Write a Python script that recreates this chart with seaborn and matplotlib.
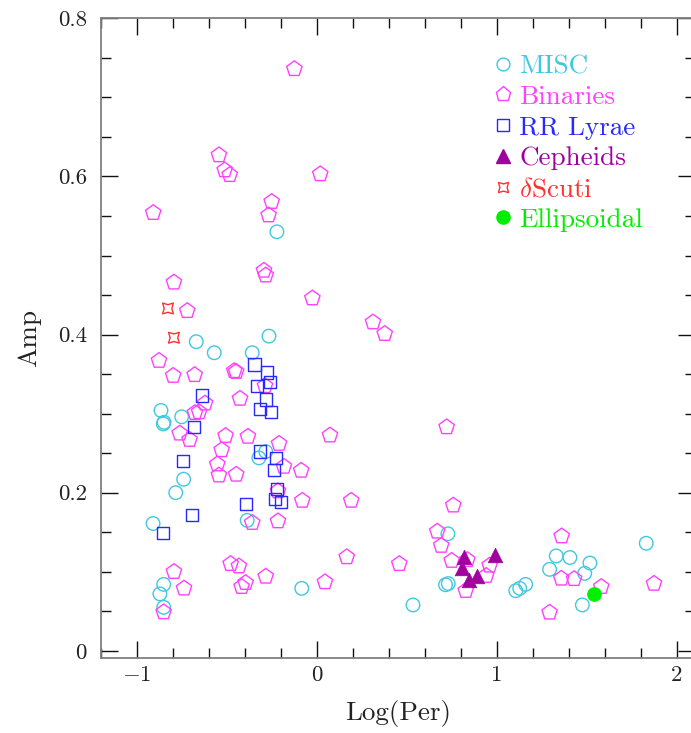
import numpy as np
import pandas as pd
import matplotlib
matplotlib.use("Agg")
import matplotlib.pyplot as plt
from matplotlib.lines import Line2D
from matplotlib.ticker import MultipleLocator
import seaborn as sns

# ---- data: log period vs amplitude, by variable class ----
misc_logp = [-0.669, -0.265, -0.569, -0.358, -0.865, -0.848, -0.852, -0.750,
             -0.283, -0.321, -0.739, -0.783, -0.909, -0.386, -0.850, -0.871,
             -0.850, -0.083, -0.221, 0.729, 0.716, 0.731, 0.535, 1.331,
             1.407, 1.294, 1.518, 1.489, 1.476, 1.106, 1.128, 1.161, 1.831]
misc_amp = [0.391, 0.398, 0.377, 0.377, 0.304, 0.289, 0.287, 0.296,
            0.252, 0.244, 0.217, 0.200, 0.161, 0.165, 0.084, 0.072,
            0.055, 0.079, 0.530, 0.148, 0.0835, 0.085, 0.058, 0.120,
            0.118, 0.103, 0.111, 0.098, 0.058, 0.076, 0.079, 0.084, 0.136]

bin_logp = [-0.124, -0.543, -0.511, -0.483, 0.020, -0.908, -0.250, -0.267,
            -0.293, -0.283, -0.793, -0.024, -0.719, 0.313, 0.378, -0.876,
            -0.797, -0.678, -0.458, -0.447, -0.287, -0.620, -0.426, -0.676,
            -0.653, -0.761, -0.706, -0.506, -0.382, -0.209, 0.074, 0.722,
            -0.528, -0.182, -0.086, -0.552, -0.543, -0.447, -0.215, -0.080,
            0.192, -0.358, -0.215, 0.167, -0.793, -0.737, -0.850, -0.478,
            -0.432, -0.395, -0.417, -0.283, 0.046, 0.459, 0.759, 0.670,
            0.692, 0.750, 0.837, 0.961, 0.942, 0.828, 1.361, 1.359,
            1.430, 1.581, 1.294, 1.874]
bin_amp = [0.736, 0.627, 0.608, 0.602, 0.603, 0.554, 0.568, 0.551,
           0.481, 0.475, 0.466, 0.446, 0.430, 0.4156, 0.401, 0.367,
           0.348, 0.349, 0.354, 0.353, 0.335, 0.313, 0.319, 0.301,
           0.302, 0.275, 0.267, 0.272, 0.271, 0.262, 0.2726, 0.283,
           0.254, 0.233, 0.228, 0.236, 0.222, 0.223, 0.202, 0.190,
           0.190, 0.162, 0.164, 0.1186, 0.100, 0.079, 0.049, 0.110,
           0.107, 0.086, 0.081, 0.094, 0.087, 0.110, 0.184, 0.151,
           0.133, 0.114, 0.115, 0.108, 0.095, 0.076, 0.145, 0.0915,
           0.091, 0.081, 0.0485, 0.085]

rrl_logp = [-0.345, -0.274, -0.259, -0.333, -0.636, -0.280, -0.315, -0.252,
            -0.682, -0.315, -0.226, -0.237, -0.743, -0.219, -0.233, -0.198,
            -0.391, -0.691, -0.852]
rrl_amp = [0.362, 0.352, 0.340, 0.335, 0.323, 0.318, 0.306, 0.302,
           0.283, 0.252, 0.244, 0.229, 0.240, 0.205, 0.192, 0.188,
           0.186, 0.172, 0.149]

cep_logp = [0.816, 0.809, 0.846, 0.892, 0.990]
cep_amp = [0.1186, 0.1047, 0.0899, 0.094, 0.1215]

dsct_logp = [-0.826, -0.793]
dsct_amp = [0.433, 0.396]

ell_logp = [1.541]
ell_amp = [0.072]

class_names = ["MISC", "Binaries", "RR Lyrae", "Cepheids",
               "$\\delta$Scuti", "Ellipsoidal"]

# ---- style ----
sns.set_style("ticks")
plt.rcParams.update({
    "font.family": ["cmr10", "DejaVu Serif"],
    "mathtext.fontset": "cm",
    "axes.unicode_minus": False,
    "axes.formatter.use_mathtext": True,
    "text.color": "#222222",
    "axes.labelcolor": "#222222",
    "xtick.color": "#111111",
    "ytick.color": "#111111",
    "xtick.labelcolor": "#222222",
    "ytick.labelcolor": "#222222",
})

fig = plt.figure(figsize=(6.91, 7.33), dpi=100)
# right spine sits just past the canvas edge
ax = fig.add_axes([0.1457, 0.1019, 0.8596, 0.8731])

styles = [
    # (x, y, marker, colour, hollow, size)
    (misc_logp, misc_amp, "o", "#40c8e0", True, 95),
    (bin_logp, bin_amp, "p", "#ff40ff", True, 135),
    (rrl_logp, rrl_amp, "s", "#2828ff", True, 78),
    (cep_logp, cep_amp, "^", "#a000a0", False, 110),
    (dsct_logp, dsct_amp, (4, 1, 45), "#ff3030", True, 120),
    (ell_logp, ell_amp, "o", "#00ee00", False, 100),
]

handles = []
for (xs, ys, mk, col, hollow, size), name in zip(styles, class_names):
    df = pd.DataFrame({"logper": xs, "amp": ys})
    if hollow:
        sns.scatterplot(data=df, x="logper", y="amp", ax=ax, marker=mk, s=size,
                        facecolors="none", edgecolor=col, linewidth=1.0,
                        legend=False, zorder=3)
    else:
        sns.scatterplot(data=df, x="logper", y="amp", ax=ax, marker=mk, s=size,
                        color=col, edgecolor=col, linewidth=0.5,
                        legend=False, zorder=3)
    handles.append(Line2D([], [], linestyle="none", marker=mk,
                          markersize=np.sqrt(size) * 0.95,
                          markerfacecolor="none" if hollow else col,
                          markeredgecolor=col, markeredgewidth=1.0))

leg = ax.legend(handles, class_names, loc="upper left",
                bbox_to_anchor=(0.634, 0.965), frameon=False,
                fontsize=19.5, handlelength=0.9, handletextpad=0.15,
                labelspacing=0.25, borderpad=0.0,
                labelcolor=[s[3] for s in styles])

# ---- axes ----
ax.set_xlim(-1.2, 2.1)
ax.set_ylim(-0.0095, 0.8)
ax.set_xticks([-1, 0, 1, 2])
ax.set_xticklabels(["$-1$", "0", "1", "2"])
ax.set_yticks([0, 0.2, 0.4, 0.6, 0.8])
ax.set_yticklabels(["0", "0.2", "0.4", "0.6", "0.8"])
ax.xaxis.set_minor_locator(MultipleLocator(0.2))
ax.yaxis.set_minor_locator(MultipleLocator(0.05))
ax.tick_params(which="both", direction="in", top=True, right=True,
               labelsize=16.5, width=1.0)
ax.tick_params(which="major", length=12)
ax.tick_params(which="minor", length=7)
ax.tick_params(axis="x", which="major", pad=5)
ax.tick_params(axis="y", which="major", pad=10)
for sp in ax.spines.values():
    sp.set_color("#808080")
    sp.set_linewidth(1.3)

ax.set_xlabel("Log(Per)", fontsize=19.5, labelpad=11)
ax.set_ylabel("Amp", fontsize=19.5, labelpad=12)

fig.savefig("out.png", dpi=100)
